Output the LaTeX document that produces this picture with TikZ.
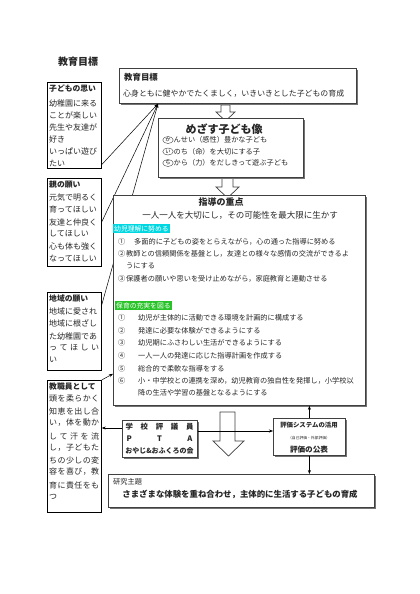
\documentclass[tikz,border=0pt]{standalone}
\usepackage{fontspec}
\setmainfont{Noto Sans CJK JP}
\usetikzlibrary{shadows,arrows.meta,calc,shapes.geometric}
\definecolor{lblcyan}{RGB}{0,215,225}
\definecolor{lblgreen}{RGB}{40,195,40}
\newcommand{\fs}[1]{\fontsize{#1}{#1}\selectfont}
\begin{document}
\begin{tikzpicture}[x=1pt,y=-1pt,
  plainbox/.style={draw=black, line width=0.7pt, fill=white, inner sep=0, anchor=north west},
  shbox/.style={draw=black!75, line width=0.8pt, fill=white, inner sep=0, anchor=north west,
     drop shadow={shadow xshift=1.6pt, shadow yshift=-1.6pt, fill=black!55, opacity=1}},
  txt/.style={inner sep=0, anchor=west, text=black!85},
  ctxt/.style={inner sep=0, anchor=center, text=black!85},
  conn/.style={line width=0.5pt, -{Stealth[length=4pt,width=3pt]}},
  blockarrow/.style={draw=black!75, line width=0.7pt, fill=white},
  oval/.style={draw=black!75, ellipse, inner sep=0, minimum width=10.5pt, minimum height=7pt, line width=0.4pt}]
\useasboundingbox (0,0) rectangle (420,594);
\fill[white] (0,0) rectangle (420,594);

% title
\node[ctxt, font=\fs{10}\bfseries] (title) at (78,62) {教育目標};

% left boxes
\node[plainbox, minimum width=54pt, minimum height=86pt] (box1) at (47,82) {};
\node[plainbox, minimum width=54pt, minimum height=88pt] (box2) at (47,178) {};
\node[plainbox, minimum width=54pt, minimum height=78pt] (box3) at (47,292) {};
\node[plainbox, minimum width=54pt, minimum height=132pt] (box4) at (47,380) {};

% box1 text
\begin{scope}[every node/.style={txt, font=\fs{8}}]
\node[font=\fs{7.8}\bfseries] (b1t) at (49,89) {子どもの思い};
\node (b1a) at (49,103) {幼稚園に来る};
\node (b1b) at (49,115) {ことが楽しい};
\node (b1c) at (49,127) {先生や友達が};
\node (b1d) at (49,139) {好き};
\node (b1e) at (49,151) {いっぱい遊び};
\node (b1f) at (49,163) {たい};
% box2
\node[font=\fs{7.8}\bfseries] (b2t) at (49,185) {親の願い};
\node (b2a) at (49,197) {元気で明るく};
\node (b2b) at (49,209) {育ってほしい};
\node (b2c) at (49,222) {友達と仲良く};
\node (b2d) at (49,234) {してほしい};
\node (b2e) at (49,246) {心も体も強く};
\node (b2f) at (49,258) {なってほしい};
% box3
\node[font=\fs{7.8}\bfseries] (b3t) at (49,299) {地域の願い};
\node (b3a) at (49,311) {地域に愛され};
\node (b3b) at (49,323) {地域に根ざし};
\node (b3c) at (49,336) {た幼稚園であ};
\node (b3d) at (49,348) {\makebox[50pt][s]{っ\hfill て\hfill ほ\hfill し\hfill い}};
\node (b3e) at (49,360) {い};
% box4
\node[font=\fs{7.8}\bfseries] (b4t) at (49,387) {教職員として};
\node (b4a) at (49,399) {\makebox[50pt][s]{頭\hfill を\hfill 柔\hfill ら\hfill か\hfill く}};
\node (b4b) at (49,411) {\makebox[50pt][s]{知\hfill 恵\hfill を\hfill 出\hfill し\hfill 合}};
\node (b4c) at (49,423) {\makebox[50pt][s]{い\hfill ，\hfill 体\hfill を\hfill 動\hfill か}};
\node (b4d) at (49,436) {\makebox[50pt][s]{し\hfill て\hfill 汗\hfill を\hfill 流}};
\node (b4e) at (49,448) {\makebox[50pt][s]{し\hfill ，\hfill 子\hfill ど\hfill も\hfill た}};
\node (b4f) at (49,460) {\makebox[50pt][s]{ち\hfill の\hfill 少\hfill し\hfill の\hfill 変}};
\node (b4g) at (49,472) {\makebox[50pt][s]{容\hfill を\hfill 喜\hfill び\hfill ，\hfill 教}};
\node (b4h) at (49,485) {\makebox[50pt][s]{育\hfill に\hfill 責\hfill 任\hfill を\hfill も}};
\node (b4i) at (49,497) {つ};
\end{scope}

% block arrows (drawn before boxes so their tips hide)
\draw[blockarrow] (221,105) -- (230,105) -- (230,112) -- (235,112) -- (225.5,121) -- (216,112) -- (221,112) -- cycle;
\draw[blockarrow] (222,178) -- (233,178) -- (233,187) -- (239,187) -- (227.5,198) -- (216,187) -- (222,187) -- cycle;
\draw[blockarrow] (220,412) -- (235,412) -- (235,441) -- (244,441) -- (228.5,456) -- (213,441) -- (220,441) -- cycle;

% top box
\node[shbox, minimum width=237pt, minimum height=35pt] (topbox) at (119,68) {};
\node[txt, font=\fs{8.4}\bfseries] (toptitle) at (124,77) {教育目標};
\node[txt, font=\fs{7.9}] (topline) at (123,94) {心身ともに健やかでたくましく，いきいきとした子どもの育成};

% connectors from left boxes to top box (drawn behind shido box)
\draw[conn] ($(box1.south east)+(0,-4)$) -- ($(topbox.south west)+(39,0)$);
\draw[conn] ($(box2.north east)+(0,44)$) -- ($(topbox.south west)+(39,0)$);
\draw[conn] ($(box3.north east)+(0,13)$) -- ($(topbox.south west)+(39,0)$);

% mezasu box
\node[shbox, minimum width=145pt, minimum height=59pt] (mezasu) at (158,118) {};
\node[ctxt, font=\fs{11}\bfseries] (mztitle) at (224,129) {めざす子ども像};
\node[oval, font=\fs{5.2}] (mz1o) at (168,140) {か};
\node[txt, font=\fs{7.2}, anchor=west] (mz1) at (mz1o.east) {んせい（感性）豊かな子ども};
\node[oval, font=\fs{5.2}] (mz2o) at (168,151.5) {い};
\node[txt, font=\fs{7.2}, anchor=west] (mz2) at (mz2o.east) {のち（命）を大切にする子};
\node[oval, font=\fs{5.2}] (mz3o) at (168,163) {ち};
\node[txt, font=\fs{7.2}, anchor=west] (mz3) at (mz3o.east) {から（力）をだしきって遊ぶ子ども};

% shido box
\node[shbox, minimum width=252pt, minimum height=210pt] (shido) at (113,195) {};
\node[ctxt, font=\fs{9}\bfseries] (shtitle) at (221,202) {指導の重点};
\node[ctxt, font=\fs{8.5}] (shmotto) at (240,215) {一人一人を大切にし，その可能性を最大限に生かす};
\node[txt, fill=lblcyan, text=white, font=\fs{6.8}, inner xsep=1pt, inner ysep=1pt] (lbl1) at (113,228.5) {幼児理解に努める};
\begin{scope}[every node/.style={txt, font=\fs{7.2}}]
\node (n11) at (118,242) {①};
\node (s11) at (134,242) {多面的に子どもの姿をとらえながら，心の通った指導に努める};
\node (n12) at (118,254) {②};
\node (s12) at (126,254) {教師との信頼関係を基盤とし，友達との様々な感情の交流ができるよ};
\node (s12b) at (126,266) {うにする};
\node (n13) at (118,279) {③};
\node (s13) at (126,279) {保護者の願いや思いを受け止めながら，家庭教育と連動させる};
\end{scope}
\node[txt, fill=lblgreen, text=white, font=\fs{6.8}, inner xsep=1pt, inner ysep=1pt] (lbl2) at (115,305.5) {保育の充実を図る};
\begin{scope}[every node/.style={txt, font=\fs{7.2}}]
\node (n21) at (118,318) {①};
\node (s21) at (138,318) {幼児が主体的に活動できる環境を計画的に構成する};
\node (n22) at (118,331) {②};
\node (s22) at (138,331) {発達に必要な体験ができるようにする};
\node (n23) at (118,343) {③};
\node (s23) at (138,343) {幼児期にふさわしい生活ができるようにする};
\node (n24) at (118,356) {④};
\node (s24) at (138,356) {一人一人の発達に応じた指導計画を作成する};
\node (n25) at (118,369) {⑤};
\node (s25) at (138,369) {総合的で柔軟な指導をする};
\node (n26) at (118,381) {⑥};
\node (s26) at (138,381) {小・中学校との連携を深め，幼児教育の独自性を発揮し，小学校以};
\node (s26b) at (138,393) {降の生活や学習の基盤となるようにする};
\end{scope}

% box4 -> shido
\draw[conn] (box4.north east) -- ($(shido.south west)+(0,-32)$);

% PTA box
\node[shbox, minimum width=75pt, minimum height=37pt] (pta) at (122,420) {};
\node[ctxt, font=\fs{7.4}\bfseries] (pta1) at (159.5,427) {\makebox[68pt][s]{学\hfill 校\hfill 評\hfill 議\hfill 員}};
\node[ctxt, font=\fs{7.6}\bfseries] (pta2) at (159.5,439) {\makebox[66pt][s]{P\hfill T\hfill A}};
\node[ctxt, font=\fs{7}\bfseries] (pta3) at (159.5,451) {おやじ\&おふくろの会};

% eval box
\node[shbox, minimum width=72pt, minimum height=37pt] (eval) at (273,418) {};
\node[ctxt, font=\fs{6.4}\bfseries] (ev1) at (309,425.5) {評価システムの活用};
\node[ctxt, font=\fs{3.8}] (ev2) at (309,438) {（自己評価・外部評価）};
\node[ctxt, font=\fs{7.6}\bfseries] (ev3) at (309,450) {評価の公表};

% research box
\node[shbox, minimum width=266pt, minimum height=33pt] (research) at (108,474) {};
\node[txt, font=\fs{7.2}] (rs1) at (113,482) {研究主題};
\node[ctxt, font=\fs{8.4}\bfseries] (rs2) at (240,494) {さまざまな体験を重ね合わせ，主体的に生活する子どもの育成};

% bottom connectors
\draw[conn] ($(pta.north east)+(0,11)$) -- ($(eval.north west)+(0,13)$);
\draw[conn] ($(pta.north west)+(0,8)$) -- ($(box4.north east)+(0,48)$);
\draw[conn] (eval.north) -- (eval.north |- shido.south);
\draw[conn] (eval.south) -- (eval.south |- research.north);
\end{tikzpicture}
\end{document}
